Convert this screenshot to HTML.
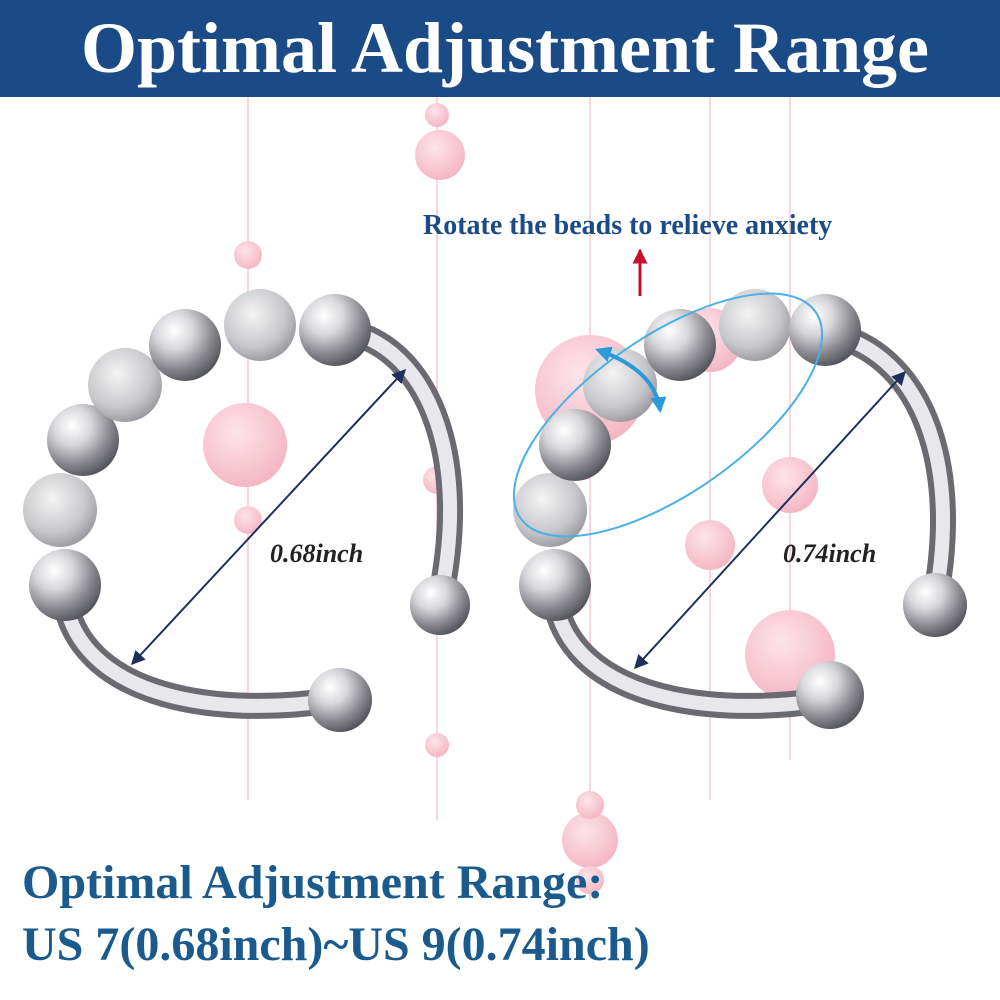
<!DOCTYPE html>
<html><head><meta charset="utf-8"><style>
html,body{margin:0;padding:0;background:#fff;width:1000px;height:1000px;overflow:hidden}
svg{display:block}
</style></head><body>
<svg width="1000" height="1000" viewBox="0 0 1000 1000" xmlns="http://www.w3.org/2000/svg">
<defs>
<radialGradient id="sil" cx="0.35" cy="0.3" r="0.75">
<stop offset="0" stop-color="#ffffff"/><stop offset="0.35" stop-color="#d8d8dc"/><stop offset="0.7" stop-color="#8a8a90"/><stop offset="1" stop-color="#505058"/></radialGradient>
<radialGradient id="frost" cx="0.4" cy="0.35" r="0.75">
<stop offset="0" stop-color="#f4f4f4"/><stop offset="0.6" stop-color="#c8c8cc"/><stop offset="1" stop-color="#8a8a90"/></radialGradient>
<radialGradient id="pink" cx="0.4" cy="0.35" r="0.7">
<stop offset="0" stop-color="#fde4ea"/><stop offset="1" stop-color="#f4b4c2"/></radialGradient>
<marker id="ah" viewBox="0 0 10 10" refX="9" refY="5" markerWidth="7" markerHeight="7" orient="auto-start-reverse"><path d="M0,0L10,5L0,10z" fill="#1e2f5e"/></marker>
<marker id="rh" viewBox="0 0 10 10" refX="9" refY="5" markerWidth="5" markerHeight="5" orient="auto"><path d="M0,0L10,5L0,10z" fill="#c8102e"/></marker>
<marker id="bh" viewBox="0 0 10 10" refX="8" refY="5" markerWidth="4" markerHeight="4" orient="auto-start-reverse"><path d="M0,0L10,5L0,10z" fill="#2a9ad8"/></marker>
</defs>
<rect width="1000" height="1000" fill="#fff"/>
<g stroke="#f8d6de" stroke-width="2">
<line x1="248" y1="97" x2="248" y2="800"/><line x1="437" y1="97" x2="437" y2="820"/>
<line x1="590" y1="97" x2="590" y2="900"/><line x1="710" y1="97" x2="710" y2="800"/><line x1="790" y1="97" x2="790" y2="760"/>
</g>
<g fill="url(#pink)">
<circle cx="440" cy="155" r="25"/><circle cx="437" cy="115" r="12"/><circle cx="248" cy="255" r="14"/>
<circle cx="245" cy="445" r="42"/><circle cx="248" cy="520" r="14"/><circle cx="590" cy="390" r="55"/>
<circle cx="710" cy="545" r="25"/><circle cx="790" cy="485" r="28"/><circle cx="790" cy="655" r="45"/>
<circle cx="590" cy="840" r="28"/><circle cx="590" cy="805" r="14"/><circle cx="437" cy="745" r="12"/>
<circle cx="437" cy="480" r="14"/><circle cx="710" cy="340" r="32"/><circle cx="590" cy="880" r="14"/>
</g>
<rect x="0" y="0" width="1000" height="97" fill="#1b4b86"/>
<text x="505" y="72" text-anchor="middle" font-family="Liberation Serif,serif" font-weight="bold" font-size="72" fill="#fff">Optimal Adjustment Range</text>
<g fill="none" stroke-linecap="round">
<path d="M360,335 C430,360 470,460 440,600" stroke="#6a6a70" stroke-width="26"/>
<path d="M360,335 C430,360 470,460 440,600" stroke="#e8e8ec" stroke-width="14"/>
<path d="M65,600 C80,690 200,720 335,700" stroke="#6a6a70" stroke-width="26"/>
<path d="M65,600 C80,690 200,720 335,700" stroke="#e8e8ec" stroke-width="14"/>
</g>
<circle cx="440" cy="605" r="30" fill="url(#sil)"/><circle cx="340" cy="700" r="32" fill="url(#sil)"/>
<circle cx="65" cy="585" r="36" fill="url(#sil)"/><circle cx="60" cy="510" r="37" fill="url(#frost)"/>
<circle cx="83" cy="440" r="36" fill="url(#sil)"/><circle cx="125" cy="385" r="37" fill="url(#frost)"/>
<circle cx="185" cy="345" r="36" fill="url(#sil)"/><circle cx="260" cy="325" r="36" fill="url(#frost)"/>
<circle cx="335" cy="330" r="36" fill="url(#sil)"/>
<g fill="none" stroke-linecap="round">
<path d="M850,340 C925,370 960,470 935,600" stroke="#6a6a70" stroke-width="26"/>
<path d="M850,340 C925,370 960,470 935,600" stroke="#e8e8ec" stroke-width="14"/>
<path d="M555,600 C570,690 690,720 825,700" stroke="#6a6a70" stroke-width="26"/>
<path d="M555,600 C570,690 690,720 825,700" stroke="#e8e8ec" stroke-width="14"/>
</g>
<circle cx="935" cy="605" r="32" fill="url(#sil)"/><circle cx="830" cy="695" r="34" fill="url(#sil)"/>
<circle cx="555" cy="585" r="36" fill="url(#sil)"/><circle cx="550" cy="510" r="37" fill="url(#frost)"/>
<circle cx="575" cy="445" r="36" fill="url(#sil)"/><circle cx="620" cy="385" r="37" fill="url(#frost)"/>
<circle cx="680" cy="345" r="36" fill="url(#sil)"/><circle cx="755" cy="325" r="36" fill="url(#frost)"/>
<circle cx="825" cy="330" r="36" fill="url(#sil)"/>
<ellipse cx="668" cy="415" rx="180" ry="78" transform="rotate(-35 668 415)" fill="none" stroke="#4ab0e6" stroke-width="2"/>
<path d="M598,350 Q655,370 660,410" fill="none" stroke="#2a9ad8" stroke-width="4" marker-start="url(#bh)" marker-end="url(#bh)"/>
<line x1="132" y1="664" x2="405" y2="370" stroke="#1e2f5e" stroke-width="2" marker-start="url(#ah)" marker-end="url(#ah)"/>
<line x1="635" y1="668" x2="905" y2="372" stroke="#1e2f5e" stroke-width="2" marker-start="url(#ah)" marker-end="url(#ah)"/>
<text x="270" y="562" font-family="Liberation Serif,serif" font-weight="bold" font-style="italic" font-size="26" fill="#222">0.68inch</text>
<text x="783" y="562" font-family="Liberation Serif,serif" font-weight="bold" font-style="italic" font-size="26" fill="#222">0.74inch</text>
<line x1="640" y1="296" x2="640" y2="250" stroke="#c8102e" stroke-width="3" marker-end="url(#rh)"/>
<text x="423" y="234" font-family="Liberation Serif,serif" font-weight="bold" font-size="28" fill="#1b4b86">Rotate the beads to relieve anxiety</text>
<text x="22" y="898" font-family="Liberation Serif,serif" font-weight="bold" font-size="48" fill="#1a5a8c">Optimal Adjustment Range:</text>
<text x="22" y="960" font-family="Liberation Serif,serif" font-weight="bold" font-size="48" fill="#1a5a8c">US 7(0.68inch)~US 9(0.74inch)</text>
</svg>
</body></html>
